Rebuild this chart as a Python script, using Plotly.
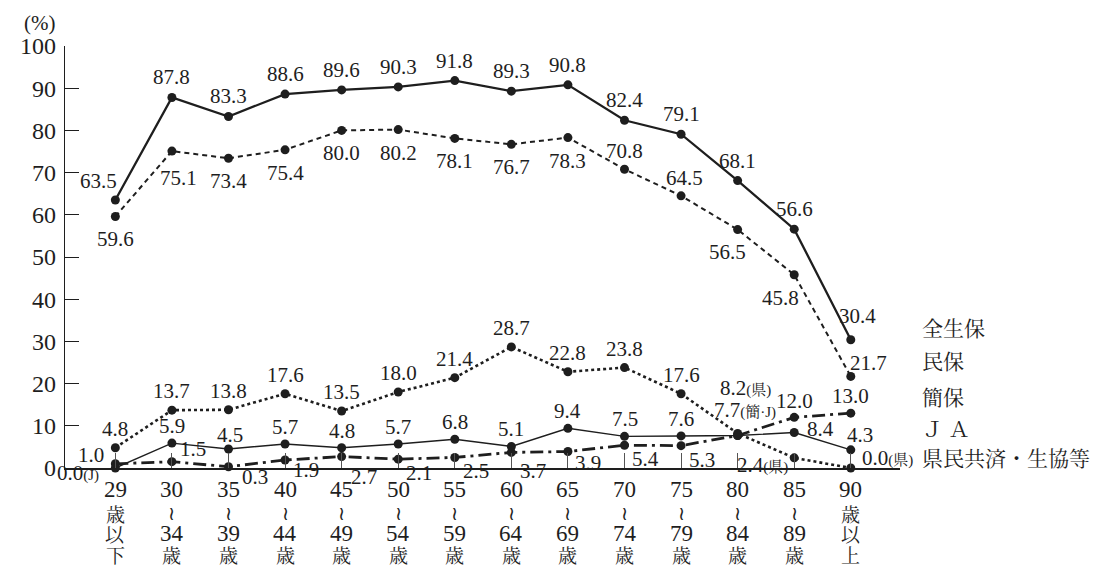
import plotly.graph_objects as go

# ---------------- data ----------------
categories = ["29歳以下", "30～34歳", "35～39歳", "40～44歳", "45～49歳", "50～54歳", "55～59歳",
              "60～64歳", "65～69歳", "70～74歳", "75～79歳", "80～84歳", "85～89歳", "90歳以上"]
xtick_lines = [["29", "歳", "以", "下"], ["30", "≀", "34", "歳"], ["35", "≀", "39", "歳"],
               ["40", "≀", "44", "歳"], ["45", "≀", "49", "歳"], ["50", "≀", "54", "歳"],
               ["55", "≀", "59", "歳"], ["60", "≀", "64", "歳"], ["65", "≀", "69", "歳"],
               ["70", "≀", "74", "歳"], ["75", "≀", "79", "歳"], ["80", "≀", "84", "歳"],
               ["85", "≀", "89", "歳"], ["90", "歳", "以", "上"]]

zenseiho = [63.5, 87.8, 83.3, 88.6, 89.6, 90.3, 91.8, 89.3, 90.8, 82.4, 79.1, 68.1, 56.6, 30.4]
minpo = [59.6, 75.1, 73.4, 75.4, 80.0, 80.2, 78.1, 76.7, 78.3, 70.8, 64.5, 56.5, 45.8, 21.7]
kanpo = [1.0, 1.5, 0.3, 1.9, 2.7, 2.1, 2.5, 3.7, 3.9, 5.4, 5.3, 7.7, 12.0, 13.0]
ja = [0.0, 5.9, 4.5, 5.7, 4.8, 5.7, 6.8, 5.1, 9.4, 7.5, 7.6, 7.7, 8.4, 4.3]
kenmin = [4.8, 13.7, 13.8, 17.6, 13.5, 18.0, 21.4, 28.7, 22.8, 23.8, 17.6, 8.2, 2.4, 0.0]

series_names = ["全生保", "民保", "簡保", "Ｊ Ａ", "県民共済・生協等"]
yticks = [0, 10, 20, 30, 40, 50, 60, 70, 80, 90, 100]

# label suffixes (text notes) shown in the original
small = "<span style='font-size:15px'>{}</span>"
suffix = {
    ("ja", 0): small.format("(J)"),
    ("kanpo", 11): small.format("(簡·J)"),
    ("kenmin", 11): small.format("(県)"),
    ("kenmin", 12): small.format("(県)"),
    ("kenmin", 13): small.format("(県)"),
}
skip_labels = {("ja", 11)}

# ---------------- styling / label placement ----------------
NUM_FONT = "Liberation Serif, Noto Serif CJK JP, serif"
CJK_FONT = "Noto Serif CJK JP, serif"
INK = "#1e1e1e"

styles = {
    "zenseiho": dict(width=2.3, dash="solid"),
    "minpo": dict(width=2.0, dash="5px,4px"),
    "kanpo": dict(width=2.8, dash="13px,5px,3px,5px"),
    "ja": dict(width=1.4, dash="solid"),
    "kenmin": dict(width=2.6, dash="dot"),
}

# default label offsets (xanchor, xshift, yshift) per series
default_off = {
    "zenseiho": ("center", 0, 20),
    "minpo": ("center", 0, -23),
    "kanpo": ("center", 21, -14),
    "ja": ("center", 0, 17),
    "kenmin": ("center", 0, 19),
}
override_off = {
    ("zenseiho", 0): ("right", 4, 19),
    ("zenseiho", 13): ("center", 7, 24),
    ("minpo", 1): ("center", 7, -27),
    ("minpo", 9): ("center", 0, 18),
    ("minpo", 10): ("center", 3, 18),
    ("minpo", 11): ("center", -10, -22),
    ("minpo", 12): ("center", -14, -23),
    ("minpo", 13): ("center", 18, 13),
    ("kenmin", 11): ("left", -20, 45),
    ("kenmin", 12): ("right", -4, -7),
    ("kenmin", 13): ("left", 9, 10),
    ("ja", 0): ("right", -14, -5),
    ("ja", 2): ("center", 2, 14),
    ("ja", 12): ("center", 26, 4),
    ("ja", 13): ("center", 9, 15),
    ("kanpo", 0): ("right", -9, 9),
    ("kanpo", 1): ("center", 21, 13),
    ("kanpo", 2): ("center", 27, -10),
    ("kanpo", 3): ("center", 21, -10),
    ("kanpo", 4): ("center", 22, -20),
    ("kanpo", 7): ("center", 22, -19),
    ("kanpo", 8): ("center", 20, -11),
    ("kanpo", 11): ("left", -26, 26),
    ("kanpo", 12): ("center", 0, 16),
    ("kanpo", 13): ("center", 0, 17),
}

legend_label_y = [33.4, 25.6, 17.1, 9.5, 2.6]  # y (data units) for right-side series names

series = [("zenseiho", zenseiho), ("minpo", minpo), ("kanpo", kanpo), ("ja", ja), ("kenmin", kenmin)]

fig = go.Figure()
annotations = []
for key, vals in series:
    st = styles[key]
    fig.add_trace(go.Scatter(
        x=categories, y=vals, mode="lines+markers",
        line=dict(color=INK, width=st["width"], dash=st["dash"]),
        marker=dict(color=INK, size=9, symbol="circle"),
        showlegend=False, cliponaxis=False,
    ))
    for i, v in enumerate(vals):
        if (key, i) in skip_labels:
            continue
        anchor, dx, dy = override_off.get((key, i), default_off[key])
        text = f"{v:.1f}" + suffix.get((key, i), "")
        annotations.append(dict(
            x=categories[i], y=v, xref="x", yref="y", text=text, showarrow=False,
            xanchor=anchor, yanchor="middle", xshift=dx, yshift=dy,
            font=dict(family=NUM_FONT, size=21, color=INK),
        ))

# x tick labels (stacked vertical text)
row_offsets = [21, 45, 65, 86]
for i, lines in enumerate(xtick_lines):
    for r, t in enumerate(lines):
        if t[0].isdigit():
            f = dict(family=NUM_FONT, size=23, color=INK)
        elif t == "≀":
            f = dict(family="DejaVu Serif", size=19, color=INK)
        else:
            f = dict(family=CJK_FONT, size=19, color=INK)
        annotations.append(dict(
            x=categories[i], y=0, xref="x", yref="y", text=t, showarrow=False,
            xanchor="center", yanchor="middle", yshift=-row_offsets[r], font=f,
        ))

# series names on the right
for name, ly in zip(series_names, legend_label_y):
    annotations.append(dict(
        x=categories[-1], y=ly, xref="x", yref="y", text=name, showarrow=False,
        xanchor="left", yanchor="middle", xshift=69,
        font=dict(family=CJK_FONT, size=21, color=INK),
    ))

# unit label
annotations.append(dict(
    x=0, y=1, xref="paper", yref="paper", text="(%)", showarrow=False,
    xanchor="right", yanchor="bottom", xshift=-8, yshift=9,
    font=dict(family=NUM_FONT, size=21, color=INK),
))

# the page adds an 8px body margin; compensate so the plot area sits where the original's does
fig.update_layout(
    width=1090, height=559,
    margin=dict(l=49, r=198, t=38, b=99),
    paper_bgcolor="white", plot_bgcolor="white",
    annotations=annotations,
    xaxis=dict(
        type="category", categoryorder="array", categoryarray=categories,
        range=[-0.89, 13.87], showgrid=False, zeroline=False,
        showline=True, linecolor=INK, linewidth=1.5,
        ticks="inside", ticklen=15, tickwidth=1, tickcolor="#555",
        showticklabels=False,
    ),
    yaxis=dict(
        range=[0, 100], tickvals=yticks, showgrid=False, zeroline=False,
        showline=True, linecolor=INK, linewidth=1.2,
        ticks="inside", ticklen=14, tickwidth=1.2, tickcolor=INK,
        tickfont=dict(family=NUM_FONT, size=24, color=INK),
        ticklabelstandoff=3,
    ),
)

fig.write_html("out.html")
